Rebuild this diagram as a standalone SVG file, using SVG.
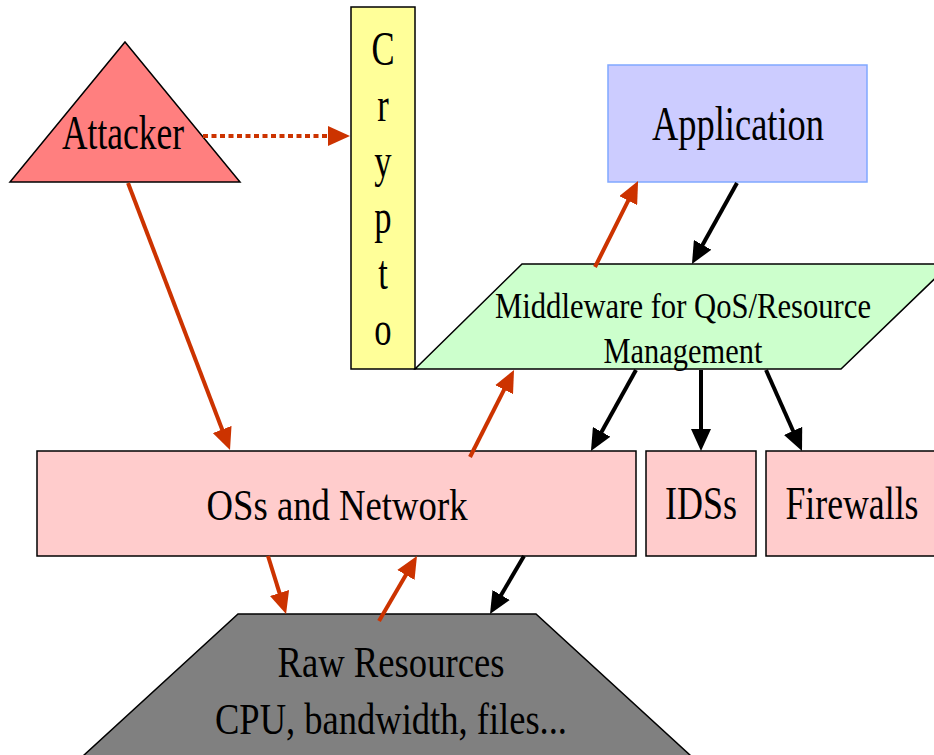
<svg xmlns="http://www.w3.org/2000/svg" width="934" height="755" viewBox="0 0 934 755">
  <style>
    .lbl { font-family: "Liberation Serif", "Times New Roman", serif; fill: #000; text-anchor: middle; }
    .shape { stroke: #000; stroke-width: 1.5; }
    .red { stroke: #cc3300; stroke-width: 4; fill: none; }
    .blk { stroke: #000; stroke-width: 4; fill: none; }
  </style>
  <defs>
    <marker id="headRed" viewBox="0 0 22 20" refX="4" refY="10" markerWidth="22" markerHeight="20" markerUnits="userSpaceOnUse" orient="auto">
      <path d="M0,0 L22,10 L0,20 z" fill="#cc3300"/>
    </marker>
    <marker id="headBlk" viewBox="0 0 22 20" refX="4" refY="10" markerWidth="22" markerHeight="20" markerUnits="userSpaceOnUse" orient="auto">
      <path d="M0,0 L22,10 L0,20 z" fill="#000"/>
    </marker>
  </defs>
  <rect width="934" height="755" fill="#fff"/>

  <g id="attacker">
    <polygon class="shape" points="125,42 240,182 10,182" fill="#ff7f7f"/>
    <text class="lbl" x="123" y="149" font-size="48" textLength="122" lengthAdjust="spacingAndGlyphs">Attacker</text>
  </g>

  <g id="crypto">
    <rect class="shape" x="351" y="7" width="64" height="362" fill="#ffff99"/>
    <g transform="translate(383 0) scale(0.72 1)" font-size="48">
      <text class="lbl" x="0" y="65">C</text>
      <text class="lbl" x="0" y="121">r</text>
      <text class="lbl" x="0" y="177">y</text>
      <text class="lbl" x="0" y="233">p</text>
      <text class="lbl" x="0" y="289">t</text>
      <text class="lbl" x="0" y="345">o</text>
    </g>
  </g>

  <g id="application">
    <rect x="608" y="65" width="259" height="117" fill="#ccccff" stroke="#80a8ff" stroke-width="1.5"/>
    <text class="lbl" x="738" y="140" font-size="48" textLength="172" lengthAdjust="spacingAndGlyphs">Application</text>
  </g>

  <g id="middleware">
    <polygon class="shape" points="522,264 950,264 841,369 415,369" fill="#ccffcc"/>
    <text class="lbl" x="683" y="318" font-size="36" textLength="376" lengthAdjust="spacingAndGlyphs">Middleware for QoS/Resource</text>
    <text class="lbl" x="683" y="363" font-size="36" textLength="159" lengthAdjust="spacingAndGlyphs">Management</text>
  </g>

  <g id="os-network">
    <rect class="shape" x="37" y="451" width="599" height="105" fill="#ffcccc"/>
    <text class="lbl" x="337" y="520" font-size="45" textLength="261" lengthAdjust="spacingAndGlyphs">OSs and Network</text>
  </g>

  <g id="ids">
    <rect class="shape" x="646" y="451" width="110" height="105" fill="#ffcccc"/>
    <text class="lbl" x="701" y="519" font-size="46" textLength="72" lengthAdjust="spacingAndGlyphs">IDSs</text>
  </g>

  <g id="firewalls">
    <rect class="shape" x="766" y="451" width="180" height="105" fill="#ffcccc"/>
    <text class="lbl" x="852" y="519" font-size="46" textLength="133" lengthAdjust="spacingAndGlyphs">Firewalls</text>
  </g>

  <g id="raw-resources">
    <polygon class="shape" points="238,614 536,614 691,756 83,756" fill="#808080"/>
    <text class="lbl" x="391" y="677" font-size="45" textLength="227" lengthAdjust="spacingAndGlyphs">Raw Resources</text>
    <text class="lbl" x="391" y="734" font-size="45" textLength="352" lengthAdjust="spacingAndGlyphs">CPU, bandwidth, files...</text>
  </g>

  <g id="connectors">
    <line class="red" x1="203" y1="136" x2="332" y2="136" stroke-width="6" stroke-dasharray="5 3.5" marker-end="url(#headRed)"/>
    <line class="red" x1="128" y1="183" x2="223.6" y2="433.2" marker-end="url(#headRed)"/>
    <line class="red" x1="470" y1="457" x2="505.9" y2="386.1" marker-end="url(#headRed)"/>
    <line class="red" x1="595" y1="267" x2="630" y2="197.1" marker-end="url(#headRed)"/>
    <line class="blk" x1="737" y1="183" x2="700.7" y2="248.3" marker-end="url(#headBlk)"/>
    <line class="blk" x1="636" y1="370" x2="599.7" y2="435.3" marker-end="url(#headBlk)"/>
    <line class="blk" x1="701" y1="370" x2="701" y2="433" marker-end="url(#headBlk)"/>
    <line class="blk" x1="766" y1="370" x2="794.7" y2="434.5" marker-end="url(#headBlk)"/>
    <line class="red" x1="268" y1="556" x2="280.7" y2="596.8" marker-end="url(#headRed)"/>
    <line class="red" x1="379" y1="621" x2="407.9" y2="571.5" marker-end="url(#headRed)"/>
    <line class="blk" x1="524" y1="556" x2="499.1" y2="598.5" marker-end="url(#headBlk)"/>
  </g>
</svg>
